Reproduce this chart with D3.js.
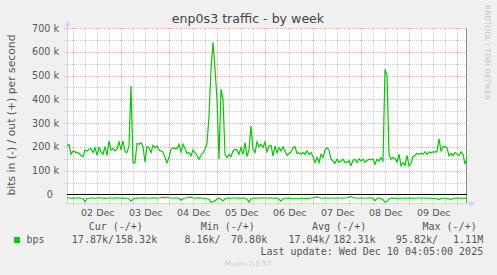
<!DOCTYPE html>
<html>
<head>
<meta charset="utf-8">
<script src="https://cdn.jsdelivr.net/npm/d3@7"></script>
<style>
body{margin:0;background:#f0f0f0;overflow:hidden;}
text{font-family:"DejaVu Sans",sans-serif;}
.mono{font-family:"DejaVu Sans Mono",monospace;white-space:pre;}
</style>
</head>
<body>
<div id="idTrafficGraph"></div>
<script>
// hourly samples, kbit/s
var aOutValues=[
	204,211,169,183,179,176,173,164,159,187,
	183,190,193,176,197,164,197,179,169,201,
	164,225,187,193,183,190,221,187,225,179,
	176,204,457,133,133,215,211,218,201,136,
	201,197,176,207,197,204,187,183,179,155,
	133,155,190,197,193,193,211,179,211,193,
	172,176,162,187,176,164,148,164,176,190,
	215,330,527,640,527,400,148,443,400,169,
	155,169,159,183,190,187,169,197,169,218,
	159,187,288,190,176,221,201,211,197,221,
	180,204,207,162,204,176,197,183,201,183,
	164,173,179,197,201,172,176,169,176,169,
	183,169,176,159,134,155,134,169,155,187,
	197,187,148,141,131,148,136,141,148,134,
	136,141,122,143,148,134,150,141,148,136,
	143,148,145,150,127,148,141,155,141,527,
	500,169,148,155,150,136,169,120,134,122,
	164,120,131,159,164,173,169,173,169,180,
	169,179,176,179,179,179,235,183,201,201,
	197,162,173,164,176,169,164,179,169,127,
	155
];
var aInValues=[
	14,15,16,15,16,15,14,16,17,30,
	17,16,15,15,16,15,14,15,16,15,
	16,15,15,16,15,14,15,16,15,16,
	16,18,29,20,16,15,16,15,14,15,
	15,16,15,14,15,16,15,13,12,14,
	11,14,15,16,15,15,16,24,17,15,
	14,11,12,15,16,15,14,15,16,17,
	18,20,33,30,27,18,16,20,27,18,
	16,15,16,15,15,16,15,16,15,16,
	20,32,18,16,15,16,15,14,15,15,
	16,15,14,16,15,16,20,28,18,16,
	16,15,16,17,16,16,17,16,16,17,
	16,17,15,14,13,10,13,15,16,15,
	15,16,15,15,16,15,15,16,15,15,
	14,12,9,13,15,15,16,15,15,16,
	15,14,15,16,26,17,15,16,22,32,
	30,18,16,15,16,17,16,15,16,15,
	16,15,16,15,16,15,15,16,15,15,
	16,15,16,17,17,18,22,17,16,16,
	17,19,21,17,16,15,16,15,16,15,
	18
];
var aYTicks=[0,100,200,300,400,500,600,700];
var aYMinor=[50,150,250,350,450,550,650];
var aDayLabels=["02 Dec","03 Dec","04 Dec","05 Dec","06 Dec","07 Dec","08 Dec","09 Dec"];
var aLegendHeads=["Cur (-/+)","Min (-/+)","Avg (-/+)","Max (-/+)"];
var aLegendIn=["17.87k/","8.16k/","17.04k/","95.82k/"];
var aLegendOut=["158.32k","70.80k","182.31k","1.11M"];
var sTitle="enp0s3 traffic - by week";
var sVLabel="bits in (-) / out (+) per second";
var sSeries="bps";
var sLastUpdate="Last update: Wed Dec 10 04:05:00 2025";
var dtStart=Date.UTC(2025,11,1,20,51);
var iStepMs=3600000;

function DrawTrafficGraph()
{
	var iWidth=497;
	var iHeight=275;
	var sID="idTrafficSvg";
	var myCanvas, myX, myY;

	function Render(){}

	Render.newGraph = function(sContentLoc) {
		myCanvas=d3.select(sContentLoc).append("svg")
			.attr("id",sID)
			.attr("width",iWidth)
			.attr("height",iHeight);

		var dtEnd=dtStart+(aOutValues.length-1)*iStepMs;
		myX=d3.scaleUtc().domain([dtStart,dtEnd]).range([67,467]);
		myY=d3.scaleLinear().domain([-36,700]).range([203,28]);

		myCanvas.append("rect").attr("width",iWidth).attr("height",iHeight).attr("fill","#f0f0f0");
		myCanvas.append("rect")
			.attr("x",myX.range()[0]).attr("y",myY.range()[1])
			.attr("width",myX.range()[1]-myX.range()[0])
			.attr("height",myY.range()[0]-myY.range()[1])
			.attr("fill","#ffffff");

		Render.grid();
		Render.axes();
		Render.lines();
		Render.legend();
		return Render;
	};

	Render.grid = function()
	{
		var g=myCanvas.append("g");
		var iLeft=myX.range()[0], iRight=myX.range()[1]+1;
		var iTop=myY.range()[1], iBottom=myY.range()[0];
		function yPix(v){return Math.round(myY(v))+0.5;}
		function xPix(t){return Math.round(myX(t))+0.5;}

		var aMinorT=d3.utcHour.every(6).range(new Date(dtStart),myX.domain()[1])
			.filter(function(t){return t.getUTCHours()!=0;});
		var aMajorT=d3.utcDay.range(new Date(dtStart),myX.domain()[1]);

		g.selectAll(".hMinor").data(aYMinor).enter().append("line")
			.attr("x1",iLeft-3).attr("x2",iRight)
			.attr("y1",yPix).attr("y2",yPix)
			.attr("stroke","#cacaca").attr("stroke-dasharray","1,1");
		g.selectAll(".vMinor").data(aMinorT).enter().append("line")
			.attr("x1",xPix).attr("x2",xPix)
			.attr("y1",iTop).attr("y2",iBottom+3)
			.attr("stroke","#cacaca").attr("stroke-dasharray","1,1");
		g.selectAll(".hMajor").data(aYTicks.slice(1)).enter().append("line")
			.attr("x1",iLeft-3).attr("x2",iRight)
			.attr("y1",yPix).attr("y2",yPix)
			.attr("stroke","#ebadad").attr("stroke-dasharray","1,1");
		g.selectAll(".vMajor").data(aMajorT).enter().append("line")
			.attr("x1",xPix).attr("x2",xPix)
			.attr("y1",iTop).attr("y2",iBottom+3)
			.attr("stroke","#ebadad").attr("stroke-dasharray","1,1");
		return Render;
	}

	Render.axes = function()
	{
		var dtNoon=d3.utcDay.range(new Date(dtStart),myX.domain()[1])
			.map(function(t){return d3.utcHour.offset(t,12);})
			.slice(0,aDayLabels.length);

		var yAxis=myCanvas.append("g")
			.attr("transform","translate(61,0)")
			.call(d3.axisLeft(myY).tickValues(aYTicks).tickSize(0).tickPadding(2)
				.tickFormat(function(v){return v==0 ? "0\u00a0\u00a0" : v+" k";}));
		yAxis.select(".domain").remove();
		yAxis.selectAll("text").attr("font-family","DejaVu Sans").attr("font-size","9.6px").attr("fill","#555");

		var xAxis=myCanvas.append("g")
			.attr("transform","translate(0,"+myY.range()[0]+")")
			.call(d3.axisBottom(myX).tickValues(dtNoon).tickSize(0).tickPadding(6)
				.tickFormat(function(t,i){return aDayLabels[i];}));
		xAxis.select(".domain").remove();
		xAxis.selectAll("text").attr("font-family","DejaVu Sans").attr("font-size","9.5px").attr("fill","#555");

		var sAxis="#cfd6f8";
		var iL=myX.range()[0]+0.5, iB=myY.range()[0]+0.5;
		myCanvas.append("line").attr("x1",iL).attr("x2",iL).attr("y1",iB).attr("y2",24).attr("stroke",sAxis);
		myCanvas.append("path").attr("d","M"+(iL-3)+",26L"+(iL+3)+",26L"+iL+",20Z").attr("fill",sAxis);
		myCanvas.append("line").attr("x1",iL-3).attr("x2",471).attr("y1",iB).attr("y2",iB).attr("stroke",sAxis);
		myCanvas.append("path").attr("d","M469,"+(iB-3)+"L469,"+(iB+3)+"L475,"+iB+"Z").attr("fill",sAxis);

		myCanvas.append("line")
			.attr("x1",466.5).attr("x2",466.5).attr("y1",myY.range()[1]).attr("y2",myY.range()[0])
			.attr("stroke","#8c8c8c");

		myCanvas.append("text").text(sTitle)
			.attr("x",248).attr("y",23).attr("text-anchor","middle")
			.attr("font-size","12.6px").attr("fill","#444");
		myCanvas.append("text").text(sVLabel)
			.attr("transform","translate(15,115) rotate(-90)").attr("text-anchor","middle")
			.attr("font-size","10.8px").attr("fill","#555");
		myCanvas.append("text").text("RRDTOOL / TOBI OETIKER")
			.attr("transform","translate(485,5) rotate(90)")
			.attr("font-size","7.4px").attr("fill","#c4c4c4");
		return Render;
	}

	Render.lines = function()
	{
		var myLine=d3.line()
			.x(function(v,i){return myX(dtStart+i*iStepMs);})
			.y(function(v){return myY(v);});

		myCanvas.append("path").datum(aInValues.map(function(v){return -v;}))
			.attr("d",myLine).attr("fill","none").attr("stroke","#00cc00").attr("stroke-width",1.2);
		myCanvas.append("path").datum(aOutValues)
			.attr("d",myLine).attr("fill","none").attr("stroke","#00cc00").attr("stroke-width",1.2);

		myCanvas.append("line")
			.attr("x1",myX.range()[0]).attr("x2",myX.range()[1])
			.attr("y1",Math.round(myY(0))+0.5).attr("y2",Math.round(myY(0))+0.5)
			.attr("stroke","#000").attr("stroke-width",1.2);
		return Render;
	}

	Render.legend = function()
	{
		var aHeadX=[88.7,200.7,312,422.5];
		var aInX=[114,220.6,330.6,438];
		var aOutX=[157.2,267.2,375.5,483.2];

		myCanvas.selectAll(".legHead").data(aLegendHeads).enter().append("text")
			.attr("class","mono").text(function(s){return s;})
			.attr("x",function(s,i){return aHeadX[i];}).attr("y",230)
			.attr("font-size","10px").attr("fill","#555");
		myCanvas.selectAll(".legIn").data(aLegendIn).enter().append("text")
			.attr("class","mono").text(function(s){return s;})
			.attr("x",function(s,i){return aInX[i];}).attr("y",243).attr("text-anchor","end")
			.attr("font-size","10px").attr("fill","#555");
		myCanvas.selectAll(".legOut").data(aLegendOut).enter().append("text")
			.attr("class","mono").text(function(s){return s;})
			.attr("x",function(s,i){return aOutX[i];}).attr("y",243).attr("text-anchor","end")
			.attr("font-size","10px").attr("fill","#555");

		myCanvas.append("rect").attr("x",14).attr("y",237).attr("width",6).attr("height",6).attr("fill","#00cc00");
		myCanvas.append("text").attr("class","mono").text(sSeries)
			.attr("x",26.5).attr("y",243).attr("font-size","10px").attr("fill","#555");
		myCanvas.append("text").attr("class","mono").text(sLastUpdate)
			.attr("x",483.2).attr("y",254.5).attr("text-anchor","end")
			.attr("font-size","10px").attr("fill","#555");
		myCanvas.append("text").text("Munin 2.0.57")
			.attr("x",248).attr("y",266).attr("text-anchor","middle")
			.attr("font-size","7.1px").attr("fill","#cccccc");
		return Render;
	}

	return Render;
}

DrawTrafficGraph().newGraph("#idTrafficGraph");
</script>
</body>
</html>
